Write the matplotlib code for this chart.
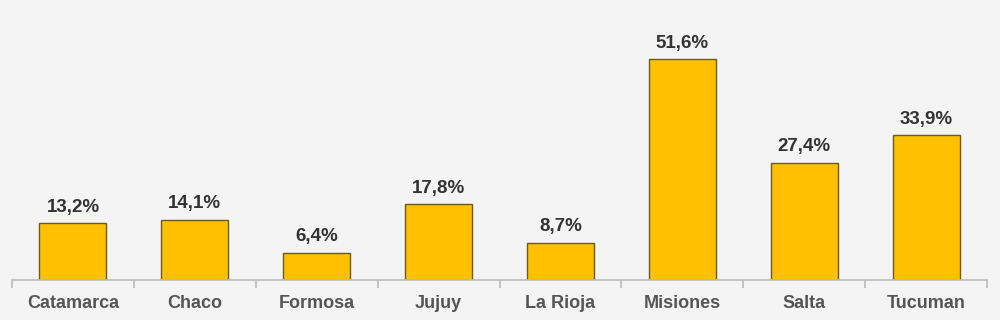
import matplotlib.pyplot as plt
import numpy as np

provinces = ["Catamarca", "Chaco", "Formosa", "Jujuy", "La Rioja", "Misiones", "Salta", "Tucuman"]
values = [13.2, 14.1, 6.4, 17.8, 8.7, 51.6, 27.4, 33.9]

plt.rcParams['font.family'] = ['Liberation Sans', 'DejaVu Sans']

fig = plt.figure(figsize=(10, 3.2), dpi=100, facecolor="#f4f4f4")
ax = fig.add_axes([0.012, 0.125, 0.975, 0.875])
ax.set_facecolor("#f4f4f4")

x = np.arange(len(provinces))
bars = ax.bar(x, values, width=0.55, color="#FFC000", edgecolor="#6b5a1e", linewidth=1.0)

for xi, v in zip(x, values):
    ax.text(xi, v + 1.7, f"{v:.1f}%".replace(".", ","), ha="center", va="bottom",
            fontsize=13.5, fontweight="bold", color="#333333")

ax.set_xlim(-0.5, len(provinces) - 0.5)
ax.set_ylim(0, 65.4)
ax.set_xticks(x)
ax.set_xticklabels(provinces, fontsize=13, fontweight="bold", color="#555555")
ax.set_xticks(np.arange(-0.5, len(provinces)), minor=True)
ax.tick_params(axis="x", which="major", length=0, pad=11)
ax.tick_params(axis="x", which="minor", length=6, color="#bbbbbb", width=1.2)
ax.set_yticks([])
for s in ["top", "right", "left"]:
    ax.spines[s].set_visible(False)
ax.spines["bottom"].set_color("#bbbbbb")
ax.spines["bottom"].set_linewidth(1.2)

fig.savefig("out.png", dpi=100, facecolor=fig.get_facecolor())
